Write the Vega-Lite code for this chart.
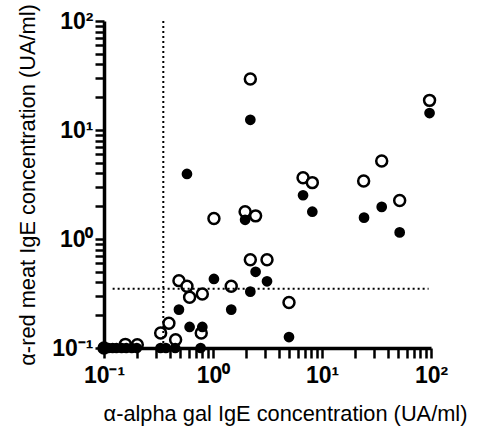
{
  "$schema": "https://vega.github.io/schema/vega-lite/v6.json",
  "width": 327,
  "height": 327,
  "autosize": "none",
  "padding": {"left": 104, "top": 21, "right": 46, "bottom": 82},
  "background": "white",
  "config": {
    "font": "Liberation Sans",
    "view": {"stroke": null},
    "axis": {
      "labelFont": "Liberation Sans",
      "labelFontWeight": "bold",
      "labelColor": "black",
      "labelFontSize": 23,
      "titleFont": "Liberation Sans",
      "titleFontWeight": "normal",
      "titleColor": "black",
      "titleFontSize": 21.8,
      "domainColor": "black",
      "tickColor": "black",
      "tickOpacity": 1,
      "grid": false
    }
  },
  "layer": [
    {
      "data": {"values": [
        {"x": 0.1, "y": 0.1},
        {"x": 2.2, "y": 29.4},
        {"x": 97, "y": 18.7},
        {"x": 35.3, "y": 5.2},
        {"x": 6.7, "y": 3.65},
        {"x": 8.15, "y": 3.29},
        {"x": 24.1, "y": 3.4},
        {"x": 51.6, "y": 2.26},
        {"x": 1.02, "y": 1.54},
        {"x": 1.97, "y": 1.78},
        {"x": 2.46, "y": 1.63},
        {"x": 2.2, "y": 0.646},
        {"x": 3.13, "y": 0.646},
        {"x": 1.47, "y": 0.368},
        {"x": 4.98, "y": 0.262},
        {"x": 0.487, "y": 0.415},
        {"x": 0.577, "y": 0.368},
        {"x": 0.61, "y": 0.292},
        {"x": 0.798, "y": 0.313},
        {"x": 0.394, "y": 0.169},
        {"x": 0.331, "y": 0.137},
        {"x": 0.454, "y": 0.119},
        {"x": 0.78, "y": 0.137},
        {"x": 0.157, "y": 0.108},
        {"x": 0.202, "y": 0.107}
      ]},
      "mark": {"type": "point", "shape": "circle", "filled": false, "fill": "white", "stroke": "black", "strokeWidth": 2.5, "size": 120, "opacity": 1},
      "encoding": {
        "x": {
          "field": "x", "type": "quantitative",
          "scale": {"type": "log", "domain": [0.1, 100], "nice": false},
          "axis": {
            "orient": "bottom",
            "values": [0.1, 0.2, 0.3, 0.4, 0.5, 0.6, 0.7, 0.8, 0.9, 1, 2, 3, 4, 5, 6, 7, 8, 9, 10, 20, 30, 40, 50, 60, 70, 80, 90, 100],
            "labelExpr": "abs(log(datum.value)/LN10 - round(log(datum.value)/LN10)) > 0.001 ? '' : round(log(datum.value)/LN10) == -1 ? '10⁻¹' : round(log(datum.value)/LN10) == 0 ? '10⁰' : round(log(datum.value)/LN10) == 1 ? '10¹' : '10²'",
            "ticks": true, "tickColor": "black",
            "tickSize": 10, "tickWidth": 2.5, "domainWidth": 3.5,
            "labelPadding": 6, "labelFlush": false, "labelOverlap": false,
            "title": "α-alpha gal IgE concentration (UA/ml)",
            "titleX": 181, "titleY": 72, "titleBaseline": "alphabetic"
          }
        },
        "y": {
          "field": "y", "type": "quantitative",
          "scale": {"type": "log", "domain": [0.1, 100], "nice": false},
          "axis": {
            "orient": "left",
            "values": [0.1, 0.2, 0.3, 0.4, 0.5, 0.6, 0.7, 0.8, 0.9, 1, 2, 3, 4, 5, 6, 7, 8, 9, 10, 20, 30, 40, 50, 60, 70, 80, 90, 100],
            "labelExpr": "abs(log(datum.value)/LN10 - round(log(datum.value)/LN10)) > 0.001 ? '' : round(log(datum.value)/LN10) == -1 ? '10⁻¹' : round(log(datum.value)/LN10) == 0 ? '10⁰' : round(log(datum.value)/LN10) == 1 ? '10¹' : '10²'",
            "ticks": true, "tickColor": "black",
            "tickSize": 9, "tickWidth": 2.5, "domainWidth": 3.5,
            "labelPadding": 2, "labelFlush": false, "labelOverlap": false,
            "title": "α-red meat IgE concentration (UA/ml)",
            "titleX": -77, "titleY": 163.5, "titleBaseline": "middle"
          }
        }
      }
    },
    {
      "data": {"values": [
        {"x": 2.2, "y": 12.4},
        {"x": 97, "y": 14.3},
        {"x": 0.577, "y": 3.95},
        {"x": 6.7, "y": 2.52},
        {"x": 8.15, "y": 1.78},
        {"x": 35.3, "y": 1.97},
        {"x": 24.3, "y": 1.57},
        {"x": 51.6, "y": 1.15},
        {"x": 1.97, "y": 1.5},
        {"x": 1.02, "y": 0.43},
        {"x": 2.46, "y": 0.5},
        {"x": 3.13, "y": 0.409},
        {"x": 2.2, "y": 0.329},
        {"x": 1.47, "y": 0.225},
        {"x": 4.98, "y": 0.126},
        {"x": 0.487, "y": 0.225},
        {"x": 0.61, "y": 0.156},
        {"x": 0.798, "y": 0.156},
        {"x": 0.1, "y": 0.1},
        {"x": 0.11, "y": 0.1},
        {"x": 0.12, "y": 0.1},
        {"x": 0.13, "y": 0.1},
        {"x": 0.145, "y": 0.1},
        {"x": 0.16, "y": 0.1},
        {"x": 0.18, "y": 0.1},
        {"x": 0.2, "y": 0.1},
        {"x": 0.33, "y": 0.1},
        {"x": 0.37, "y": 0.1},
        {"x": 0.45, "y": 0.1},
        {"x": 0.77, "y": 0.1}
      ]},
      "mark": {"type": "circle", "fill": "black", "size": 115, "opacity": 1},
      "encoding": {
        "x": {"field": "x", "type": "quantitative", "scale": {"type": "log", "domain": [0.1, 100], "nice": false}},
        "y": {"field": "y", "type": "quantitative", "scale": {"type": "log", "domain": [0.1, 100], "nice": false}}
      }
    },
    {
      "data": {"values": [{"x": 0.35, "y": 0.1, "y2": 100}]},
      "mark": {"type": "rule", "stroke": "black", "strokeWidth": 2, "strokeDash": [2, 3]},
      "encoding": {
        "x": {"field": "x", "type": "quantitative", "scale": {"type": "log", "domain": [0.1, 100], "nice": false}},
        "y": {"field": "y", "type": "quantitative", "scale": {"type": "log", "domain": [0.1, 100], "nice": false}},
        "y2": {"field": "y2"}
      }
    },
    {
      "data": {"values": [{"x": 0.12, "x2": 95, "y": 0.35}]},
      "mark": {"type": "rule", "stroke": "black", "strokeWidth": 2, "strokeDash": [2, 3]},
      "encoding": {
        "x": {"field": "x", "type": "quantitative", "scale": {"type": "log", "domain": [0.1, 100], "nice": false}},
        "x2": {"field": "x2"},
        "y": {"field": "y", "type": "quantitative", "scale": {"type": "log", "domain": [0.1, 100], "nice": false}}
      }
    }
  ]
}
